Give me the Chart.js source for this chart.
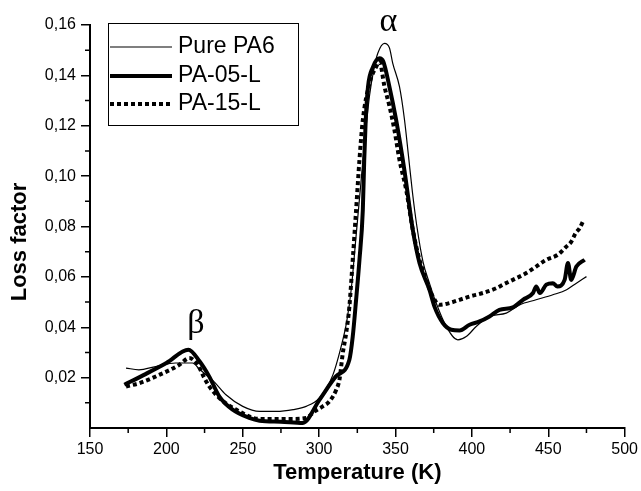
<!DOCTYPE html>
<html>
<head>
<meta charset="utf-8">
<script src="https://cdn.jsdelivr.net/npm/chart.js"></script>
<style>
  body { margin: 0; background: #fff; }
</style>
</head>
<body>
<canvas id="graficoPerdas" width="641" height="491"></canvas>
<script>
// valores
const tempPA6 = [173.6, 182, 193, 206, 217, 222, 231, 239, 250, 261, 272, 283, 291.5, 300, 309, 315.5, 318, 321, 324, 327, 330, 333, 336, 338.4, 342.8, 346, 348.2, 352.6, 355.9, 358.5, 361, 364, 368, 372.2, 376.6, 383.2, 390.8, 396.3, 402.8, 411.5, 422.5, 431.2, 442, 453, 462, 468.4, 475];
const lossPA6 = [0.0238, 0.0231, 0.0244, 0.0258, 0.0258, 0.0231, 0.0185, 0.0132, 0.0086, 0.0066, 0.0066, 0.0073, 0.0086, 0.0119, 0.0211, 0.035, 0.042, 0.055, 0.075, 0.095, 0.115, 0.132, 0.143, 0.1488, 0.1527, 0.151, 0.1448, 0.1355, 0.1223, 0.108, 0.094, 0.08, 0.066, 0.0575, 0.0496, 0.0403, 0.035, 0.0363, 0.0403, 0.0443, 0.0456, 0.0489, 0.0509, 0.0529, 0.0549, 0.0575, 0.0601];

const tempPA05 = [172.5, 185, 200, 214.4, 221.7, 228, 234.7, 243.4, 254.3, 261, 275, 289.3, 300.2, 311, 319.8, 322, 324.2, 326.4, 328.6, 329.5, 330.5, 332, 335, 339.5, 342, 346, 350.4, 355.9, 361.3, 365.7, 372.2, 375.5, 381, 386.5, 391.9, 398.5, 405, 411.5, 418, 426.8, 433.4, 440, 442.1, 444.5, 448.7, 453, 456, 460.7, 462.9, 465, 468.4, 473.8];
const lossPA05 = [0.0172, 0.021, 0.0258, 0.0311, 0.0265, 0.0205, 0.0125, 0.0073, 0.004, 0.0029, 0.0025, 0.002, 0.0112, 0.0205, 0.0271, 0.0363, 0.0509, 0.0668, 0.0866, 0.106, 0.1223, 0.1355, 0.143, 0.1468, 0.1455, 0.1355, 0.1223, 0.102, 0.0787, 0.0655, 0.0549, 0.0482, 0.0417, 0.039, 0.0387, 0.041, 0.0423, 0.0443, 0.0469, 0.0479, 0.0509, 0.0536, 0.0562, 0.0536, 0.0569, 0.0575, 0.0562, 0.0588, 0.0655, 0.0588, 0.0641, 0.0668];

const tempPA15 = [173.6, 182.3, 195.4, 208.5, 215, 220.5, 224.9, 228.1, 234.7, 245.6, 260.9, 282.7, 291.5, 297, 302.4, 306.8, 311.2, 313.3, 315.5, 317.7, 319.8, 322, 324.2, 326.4, 328.6, 333, 337.4, 339.5, 342.8, 346.1, 349.3, 352.6, 357, 361.3, 365.7, 370.1, 374.4, 378.8, 385.3, 391.9, 398.5, 407.2, 415.9, 420.3, 426.8, 435.6, 442.1, 448.7, 456.3, 461.8, 465.1, 467.9, 470.5, 472.7];
const lossPA15 = [0.0165, 0.0178, 0.0211, 0.0251, 0.0278, 0.0251, 0.0198, 0.0165, 0.0119, 0.0073, 0.0036, 0.0036, 0.004, 0.0066, 0.0086, 0.0106, 0.0152, 0.0192, 0.0298, 0.0377, 0.0482, 0.0668, 0.0866, 0.1065, 0.1223, 0.1369, 0.1435, 0.1454, 0.1355, 0.1276, 0.1183, 0.1064, 0.0945, 0.0787, 0.0668, 0.0588, 0.0522, 0.0489, 0.0496, 0.0509, 0.0522, 0.0536, 0.0555, 0.0569, 0.0588, 0.0615, 0.0641, 0.0668, 0.0688, 0.072, 0.074, 0.0774, 0.0793, 0.082];

const xTicks = [150, 200, 250, 300, 350, 400, 450, 500];
const yTicks = [0.02, 0.04, 0.06, 0.08, 0.10, 0.12, 0.14, 0.16];

const pontos = (ts, ys) => ts.map((t, i) => ({ x: t, y: ys[i] }));

// legenda, ticks menores, letras gregas e título do eixo y
const decoracoes = {
  id: 'decoracoes',
  afterDraw(chart) {
    const { ctx, chartArea, scales: { x, y } } = chart;
    ctx.save();
    ctx.strokeStyle = '#000';
    ctx.fillStyle = '#000';

    // ticks menores
    ctx.lineWidth = 1.5;
    ctx.beginPath();
    for (let i = 0; i < xTicks.length - 1; i++) {
      const px = x.getPixelForValue((xTicks[i] + xTicks[i + 1]) / 2);
      ctx.moveTo(px, chartArea.bottom);
      ctx.lineTo(px, chartArea.bottom + 5);
    }
    const yAll = [0, ...yTicks];
    for (let i = 0; i < yAll.length - 1; i++) {
      const py = y.getPixelForValue((yAll[i] + yAll[i + 1]) / 2);
      ctx.moveTo(chartArea.left, py);
      ctx.lineTo(chartArea.left - 5, py);
    }
    ctx.stroke();

    // legenda
    ctx.lineWidth = 1;
    ctx.strokeRect(108.5, 23.5, 190, 102);
    ctx.font = '23px "Liberation Sans", Arial, sans-serif';
    ctx.textBaseline = 'middle';
    ctx.textAlign = 'left';
    const linhas = [47, 76, 104];
    chart.data.datasets.forEach((ds, i) => {
      ctx.save();
      ctx.lineWidth = ds.borderWidth;
      ctx.setLineDash(ds.borderDash || []);
      ctx.beginPath();
      ctx.moveTo(110, linhas[i]);
      ctx.lineTo(172, linhas[i]);
      ctx.stroke();
      ctx.restore();
      ctx.fillText(ds.label, 178, linhas[i]);
    });

    // picos
    ctx.font = '34px "Liberation Serif", "Times New Roman", serif';
    ctx.textAlign = 'center';
    ctx.fillText('α', x.getPixelForValue(345.4), y.getPixelForValue(0.1612));
    ctx.fillText('β', x.getPixelForValue(219.4), y.getPixelForValue(0.0414));

    // título do eixo y
    ctx.font = 'bold 22px "Liberation Sans", Arial, sans-serif';
    ctx.translate(20, 242);
    ctx.rotate(-Math.PI / 2);
    ctx.fillText('Loss factor', 0, 0);
    ctx.restore();
  }
};

const ctx = document.getElementById('graficoPerdas').getContext('2d');

const grafico = new Chart(ctx, {
  type: 'line',
  data: {
    datasets: [{
      label: 'Pure PA6',
      data: pontos(tempPA6, lossPA6),
      borderColor: '#000',
      borderWidth: 1.2,
      pointRadius: 0,
      cubicInterpolationMode: 'monotone'
    }, {
      label: 'PA-05-L',
      data: pontos(tempPA05, lossPA05),
      borderColor: '#000',
      borderWidth: 4,
      pointRadius: 0,
      cubicInterpolationMode: 'monotone'
    }, {
      label: 'PA-15-L',
      data: pontos(tempPA15, lossPA15),
      borderColor: '#000',
      borderWidth: 4,
      borderDash: [4, 3],
      borderCapStyle: 'butt',
      pointRadius: 0,
      cubicInterpolationMode: 'monotone'
    }]
  },
  options: {
    responsive: false,
    animation: false,
    layout: { padding: { top: 25, right: 16, left: 0, bottom: 0 } },
    plugins: {
      legend: { display: false },
      tooltip: { enabled: false }
    },
    scales: {
      x: {
        type: 'linear',
        min: 150,
        max: 500,
        afterBuildTicks: (scale) => { scale.ticks = xTicks.map(v => ({ value: v })); },
        afterFit: (scale) => { scale.height = 63; },
        border: { color: '#000', width: 2 },
        grid: { drawOnChartArea: false, color: '#000', tickLength: 9, lineWidth: 1.5 },
        ticks: {
          color: '#000',
          padding: 3,
          maxRotation: 0,
          font: { family: '"Liberation Sans", Arial, sans-serif', size: 16 }
        },
        title: {
          display: true,
          text: 'Temperature (K)',
          color: '#000',
          padding: { top: 0, bottom: 5 },
          font: { family: '"Liberation Sans", Arial, sans-serif', size: 22, weight: 'bold' }
        }
      },
      y: {
        min: 0,
        max: 0.16,
        afterBuildTicks: (scale) => { scale.ticks = yTicks.map(v => ({ value: v })); },
        afterFit: (scale) => { scale.width = 90; },
        border: { color: '#000', width: 2 },
        grid: { drawOnChartArea: false, color: '#000', tickLength: 9, lineWidth: 1.5 },
        ticks: {
          color: '#000',
          padding: 5,
          font: { family: '"Liberation Sans", Arial, sans-serif', size: 16 },
          callback: (v) => v.toFixed(2).replace('.', ',')
        }
      }
    }
  },
  plugins: [decoracoes]
});
</script>
</body>
</html>
